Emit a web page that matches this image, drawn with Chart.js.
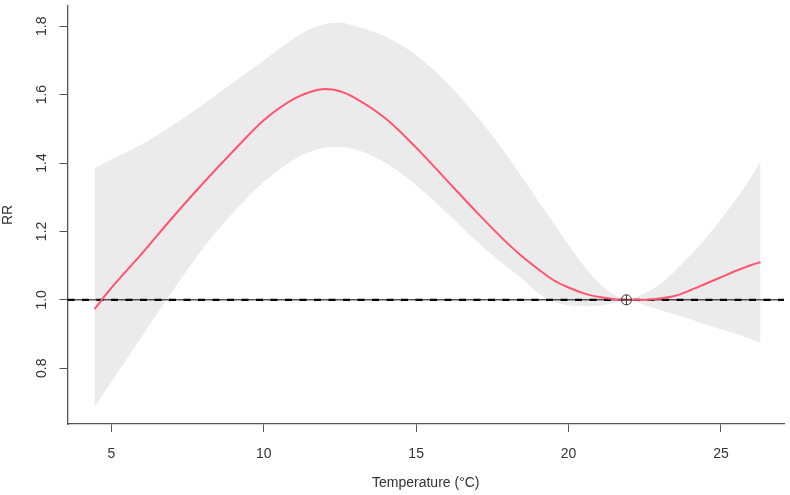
<!DOCTYPE html>
<html>
<head>
<meta charset="utf-8">
<script src="https://cdn.jsdelivr.net/npm/chart.js@4.4.1/dist/chart.umd.min.js"></script>
<style>
  html, body { margin: 0; padding: 0; background: #fff; }
  #wrap { width: 790px; height: 495px; }
</style>
</head>
<body>
<div id="wrap"><canvas id="chart"></canvas></div>
<script>
// temperature grid (°C) and relative risk curve with its confidence band
const temps = [4.45, 5, 6, 7, 8, 9, 10, 11, 11.5, 12, 12.5, 13, 14, 15, 16, 17, 18, 18.5, 19, 19.5,
  20, 20.5, 21, 21.5, 21.9, 22.5, 23, 23.5, 24, 24.5, 25, 25.5, 26, 26.3];
const rr = [0.973, 1.035, 1.135, 1.24, 1.34, 1.435, 1.525, 1.588, 1.607, 1.616, 1.61, 1.59, 1.53, 1.445, 1.35, 1.255, 1.165, 1.125, 1.09, 1.058,
  1.036, 1.019, 1.008, 1.002, 1.0, 1.0, 1.004, 1.012, 1.028, 1.047, 1.066, 1.085, 1.102, 1.11];
const rrHigh = [1.385, 1.41, 1.455, 1.51, 1.57, 1.635, 1.70, 1.765, 1.79, 1.806, 1.81, 1.80, 1.77, 1.715, 1.635, 1.535, 1.42, 1.355, 1.29, 1.225,
  1.16, 1.10, 1.05, 1.015, 1.0, 1.02, 1.045, 1.085, 1.13, 1.18, 1.235, 1.295, 1.36, 1.405];
const rrLow = [0.687, 0.76, 0.893, 1.025, 1.15, 1.255, 1.345, 1.41, 1.432, 1.445, 1.447, 1.44, 1.40, 1.335, 1.255, 1.17, 1.095, 1.06, 1.02, 0.995,
  0.984, 0.981, 0.983, 0.991, 1.0, 0.985, 0.97, 0.957, 0.943, 0.928, 0.914, 0.9, 0.885, 0.875];

const refTemp = 21.9;
const refRR = 1.0;

const xTicks = [5, 10, 15, 20, 25];
const yTicks = [0.8, 1.0, 1.2, 1.4, 1.6, 1.8];
const xMin = 3.56, xMax = 27.07;
const yMin = 0.637, yMax = 1.859;

const pts = (ys) => temps.map((t, i) => ({ x: t, y: ys[i] }));
const FONT = "'Liberation Sans', Arial, sans-serif";
const TEXT = '#333333';
const AXIS = '#555555';

// y tick labels in R are rotated, so they are drawn here
const yLabels = {
  id: 'yLabels',
  afterDraw(chart) {
    const ctx = chart.ctx;
    const y = chart.scales.y;
    ctx.save();
    ctx.font = '14px ' + FONT;
    ctx.fillStyle = TEXT;
    ctx.textAlign = 'center';
    ctx.textBaseline = 'middle';
    yTicks.forEach(v => {
      ctx.save();
      ctx.translate(42, y.getPixelForValue(v));
      ctx.rotate(-Math.PI / 2);
      ctx.fillText(v.toFixed(1), 0, 0);
      ctx.restore();
    });
    ctx.restore();
  }
};

new Chart(document.getElementById('chart'), {
  type: 'line',
  data: {
    datasets: [
      { data: pts(rrHigh), fill: '+1', backgroundColor: '#ebebeb', borderWidth: 0, pointRadius: 0,
        cubicInterpolationMode: 'monotone', order: 10 },
      { data: pts(rrLow), fill: false, borderWidth: 0, pointRadius: 0,
        cubicInterpolationMode: 'monotone', order: 9 },
      { data: [{ x: xMin, y: 1 }, { x: xMax, y: 1 }], borderColor: '#000', borderWidth: 1,
        pointRadius: 0, fill: false, order: 5 },
      { data: [{ x: xMin, y: 1 }, { x: xMax, y: 1 }], borderColor: '#000', borderWidth: 2.2,
        borderDash: [7, 7.5], pointRadius: 0, fill: false, order: 4 },
      { data: pts(rr), borderColor: '#ff5470', borderWidth: 2, pointRadius: 0, fill: false,
        cubicInterpolationMode: 'monotone', order: 3 },
      { data: [{ x: refTemp, y: refRR }], showLine: false, pointStyle: 'circle', pointRadius: 5,
        pointBackgroundColor: 'rgba(0,0,0,0)', pointBorderColor: '#333', pointBorderWidth: 1, order: 2 },
      { data: [{ x: refTemp, y: refRR }], showLine: false, pointStyle: 'cross', pointRadius: 5,
        pointBorderColor: '#333', pointBorderWidth: 1, order: 1 }
    ]
  },
  options: {
    responsive: true,
    maintainAspectRatio: false,
    animation: false,
    layout: { padding: { left: 0, right: 5, top: 0, bottom: 0 } },
    plugins: { legend: { display: false }, tooltip: { enabled: false } },
    scales: {
      x: {
        type: 'linear',
        min: xMin,
        max: xMax,
        afterBuildTicks: (s) => { s.ticks = xTicks.map(v => ({ value: v })); },
        afterFit: (s) => { s.height = 71; },
        grid: { drawOnChartArea: false, drawTicks: true, tickLength: 8, color: AXIS, lineWidth: 1 },
        border: { display: true, color: AXIS, width: 1.3 },
        ticks: { color: TEXT, font: { family: FONT, size: 14 }, padding: 14, maxRotation: 0 },
        title: { display: true, text: 'Temperature (°C)', color: TEXT, font: { family: FONT, size: 14 },
          padding: { top: 0, bottom: 3 } }
      },
      y: {
        type: 'linear',
        min: yMin,
        max: yMax,
        afterBuildTicks: (s) => { s.ticks = yTicks.map(v => ({ value: v })); },
        afterFit: (s) => { s.width = 67.5; },
        grid: { drawOnChartArea: false, drawTicks: true, tickLength: 8, color: AXIS, lineWidth: 1 },
        border: { display: true, color: AXIS, width: 1.3 },
        ticks: { display: false },
        title: { display: true, text: 'RR', color: TEXT, font: { family: FONT, size: 14 },
          padding: { top: 0, bottom: 0 } }
      }
    }
  },
  plugins: [yLabels]
});
</script>
</body>
</html>
